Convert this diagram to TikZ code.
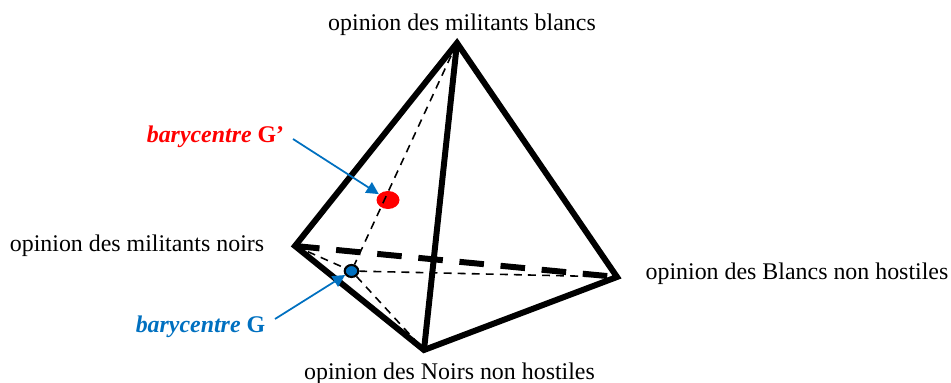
\documentclass[tikz,border=0pt]{standalone}
\usepackage{fontspec}
\setmainfont{Liberation Serif}
\usetikzlibrary{arrows.meta,shapes.geometric}
\definecolor{baryBlue}{RGB}{0,112,192}

\begin{document}
\begin{tikzpicture}[
          arete/.style={black,line width=3.4pt,line join=miter},
          cache/.style={black,line width=3.4pt,dash pattern=on 14pt off 9.5pt},
          fin/.style={black,line width=0.9pt,dash pattern=on 4.5pt off 3.5pt},
          fleche/.style={baryBlue,line width=1pt,-{Triangle[length=7pt,width=7pt]}},
          etiq/.style={font=\fontsize{13.6}{16}\selectfont,inner sep=0pt},
          bary/.style={font=\fontsize{13.6}{16}\selectfont\bfseries,inner sep=0pt}]
          \useasboundingbox (0,0) rectangle (19.02,7.66);
          \coordinate (haut) at (9.14,6.80);
          \coordinate (gauche) at (5.90,2.74);
          \coordinate (droite) at (12.34,2.12);
          \coordinate (bas) at (8.48,0.66);
          \coordinate (debG) at (5.50,1.28);
          \coordinate (debGp) at (5.86,4.88);
          \node[ellipse,fill=red,minimum width=0.46cm,minimum height=0.36cm,inner sep=0pt](Gp) at (7.76,3.66){};
          \node[ellipse,fill=baryBlue,draw=black,line width=1.2pt,minimum width=0.27cm,minimum height=0.24cm,inner sep=0pt](G) at (7.03,2.24){};
          \node[etiq](nhaut) at (9.24,7.16){opinion des militants blancs};
          \node[etiq](ngauche) at (2.74,2.74){opinion des militants noirs};
          \node[etiq](ndroite) at (15.94,2.18){opinion des Blancs non hostiles};
          \node[etiq](nbas) at (8.99,0.18){opinion des Noirs non hostiles};
          \node[bary,text=red](lGp) at (4.31,4.92){\textit{barycentre} G’};
          \node[bary,text=baryBlue](lG) at (4.01,1.13){\textit{barycentre} G};
          \draw[fin] (haut)--(G) (gauche)--(G) (G)--(droite) (G)--(bas);
          \draw[cache] (gauche)--(droite);
          \draw[arete] (haut)--(gauche)--(bas)--(droite)--cycle;
          \draw[arete] (haut)--(bas);
          \draw[fleche] (debGp)--(Gp);
          \draw[fleche] (debG)--(G);
        \end{tikzpicture}
\end{document}
